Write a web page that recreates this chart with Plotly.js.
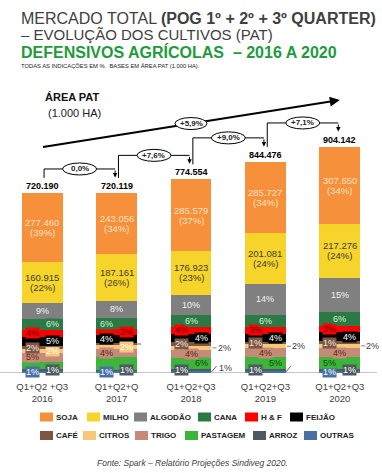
<!DOCTYPE html>
<html><head><meta charset="utf-8">
<script src="https://cdn.plot.ly/plotly-3.0.1.min.js"></script>
<style>html,body{margin:0;padding:0;background:#fff;}#chart{width:382px;height:473px;}</style>
</head><body><div id="chart"></div>
<script>
// ---------------- DATA (thousand ha, Área PAT) ----------------
const years = ['2016', '2017', '2018', '2019', '2020'];
const periodLabels = ['Q1+Q2 +Q3', 'Q1+Q2+Q', 'Q1+Q2+Q3', 'Q1+Q2+Q3', 'Q1+Q2+Q3'];
const totals = [720.190, 720.119, 774.554, 844.476, 904.142];

const soja     = [277.460, 243.056, 285.579, 285.727, 307.650];
const milho    = [160.915, 187.161, 176.923, 201.081, 217.276];
const algodao  = [64.8, 71, 79.5, 124, 135.6];
const cana     = [43.2, 43, 46.5, 50.7, 54.2];
const hf       = [28.8, 24, 31, 25.3, 27.1];
const feijao   = [36, 32, 31, 33.8, 36.2];
const cafe     = [14.4, 8, 15.5, 8.4, 9];
const citros   = [14.4, 16, 15.5, 16.9, 18.1];
const trigo    = [36, 32, 31, 33.8, 36.2];
const pastagem = [29.8, 50, 46.5, 48, 45.2];
const arroz    = [7.2, 7, 7.7, 8.4, 9];
const outras   = [7.2, 7, 7.7, 8.4, 9];

const algodaoLabels  = ['9%', '8%', '10%', '14%', '15%'];
const canaLabels     = ['6%', '6%', '6%', '6%', '6%'];
const hfLabels       = ['4%', '3%', '4%', '3%', '3%'];
const feijaoLabels   = ['5%', '4%', '4%', '4%', '4%'];
const cafeLabels     = ['2%', '', '2%', '1%', '1%'];
const citrosLabels   = ['2%', '2%', '2%', '2%', '2%'];
const trigoLabels    = ['5%', '4%', '4%', '4%', '4%'];
const pastagemLabels = ['', '', '6%', '5%', '5%'];
const arrozLabels    = ['1%', '1%', '1%', '1%', '1%'];
const outrasLabels   = ['1%', '1%', '1%', '', '1%'];

const growthLabels = ['0,0%', '+7,6%', '+9,0%', '+7,1%'];
const overallGrowth = '+5,9%';

// ---------------- STYLES ----------------
const FONT = 'Liberation Sans, Arial, Helvetica, sans-serif';
const series = [
  {name: 'OUTRAS',   y: outras,   lab: outrasLabels,   color: '#4A6FA5', tc: '#FFFFFF'},
  {name: 'ARROZ',    y: arroz,    lab: arrozLabels,    color: '#4E5961', tc: '#FFFFFF'},
  {name: 'PASTAGEM', y: pastagem, lab: pastagemLabels, color: '#3DB43A', tc: '#0E4A10'},
  {name: 'TRIGO',    y: trigo,    lab: trigoLabels,    color: '#C68B78', tc: '#5E2516'},
  {name: 'CITROS',   y: citros,   lab: citrosLabels,   color: '#F6C87A', tc: '#FFFFFF'},
  {name: 'CAFÉ',     y: cafe,     lab: cafeLabels,     color: '#7D5744', tc: '#F3E9E4'},
  {name: 'FEIJÃO',   y: feijao,   lab: feijaoLabels,   color: '#000000', tc: '#FFFFFF'},
  {name: 'H & F',    y: hf,       lab: hfLabels,       color: '#FF0000', tc: '#6A0000'},
  {name: 'CANA',     y: cana,     lab: canaLabels,     color: '#2B7A45', tc: '#D4F2D4'},
  {name: 'ALGODÃO',  y: algodao,  lab: algodaoLabels,  color: '#808080', tc: '#F4F4F4'},
  {name: 'MILHO',    y: milho,    lab: null,           color: '#F6D42A', tc: '#3C3C3C'},
  {name: 'SOJA',     y: soja,     lab: null,           color: '#F7903A', tc: '#FDE1C6'}
];
// label placement per series/year: c centre, l left, r right, o outside with dash,
// a outside with diagonal leader, d dash only, g diagonal only, '' none
const placement = {
  'ALGODÃO': ['c','c','c','c','c'],
  'CANA':    ['r','l','c','c','c'],
  'H & F':   ['l','r','l','l','l'],
  'FEIJÃO':  ['r','l','r','r','r'],
  'CAFÉ':    ['l','d','l','l','l'],
  'CITROS':  ['r','r','o','o','o'],
  'TRIGO':   ['l','l','c','c','c'],
  'PASTAGEM':['','','r','r','l'],
  'ARROZ':   ['r','r','l','l','r'],
  'OUTRAS':  ['l','l','a','g','l']
};
const legendOrder = ['SOJA','MILHO','ALGODÃO','CANA','H & F','FEIJÃO','CAFÉ','CITROS','TRIGO','PASTAGEM','ARROZ','OUTRAS'];
const legendX = [40, 87, 134, 198, 245, 290, 40, 83, 135, 185, 253, 304];

const W = 382, H = 473, ML = 5, MR = 5, MT = 75, MB = 100;
const PX = px => (px - ML) / (W - ML - MR);
const PY = py => (H - MB - py) / (H - MT - MB);
const BARW = 0.55;
const HALF = 20.5; // half bar width in px

const xs = years.map((_, i) => i);
const traces = series.map(s => ({
  type: 'bar', name: s.name, x: xs, y: s.y, width: BARW,
  marker: {color: s.color, line: {width: 0}}, hoverinfo: 'skip', showlegend: false
}));

const annotations = [];
const shapes = [];

// segment labels
const base = xs.map(() => 0);
series.forEach(s => {
  xs.forEach(i => {
    const v = s.y[i];
    const mid = base[i] + v / 2;
    if (s.lab === null) {
      const pct = '(' + Math.round(v / totals[i] * 100) + '%)';
      annotations.push({x: i, y: mid, yshift: 5, text: v.toFixed(3), showarrow: false,
        font: {family: FONT, size: 9.5, color: s.tc}});
      annotations.push({x: i, y: mid, yshift: -5, text: pct, showarrow: false,
        font: {family: FONT, size: 9.5, color: s.tc}});
    } else {
      const p = placement[s.name][i];
      const t = s.lab[i];
      if (p === 'c' || p === 'l' || p === 'r') {
        if (t) annotations.push({x: i, y: mid, xshift: p === 'l' ? -10 : (p === 'r' ? 10 : 0),
          text: t, showarrow: false, bgcolor: s.color, borderpad: 0,
          font: {family: FONT, size: 9, color: s.tc}});
      } else if (p === 'o') {
        shapes.push({type: 'line', xref: 'x', yref: 'y', xsizemode: 'pixel', xanchor: i,
          x0: HALF + 1, x1: HALF + 5, y0: mid, y1: mid, line: {color: '#808080', width: 1}});
        annotations.push({x: i, y: mid, xshift: HALF + 4, xanchor: 'left', text: t, showarrow: false,
          font: {family: FONT, size: 9, color: '#404040'}});
      } else if (p === 'd') {
        shapes.push({type: 'line', xref: 'x', yref: 'y', xsizemode: 'pixel', xanchor: i,
          x0: HALF, x1: HALF + 4, y0: mid, y1: mid, line: {color: '#606060', width: 1}});
      } else if (p === 'a' || p === 'g') {
        shapes.push({type: 'line', xref: 'x', yref: 'y', xsizemode: 'pixel', xanchor: i,
          ysizemode: 'pixel', yanchor: mid, x0: HALF, x1: HALF + 5, y0: 0, y1: 6,
          line: {color: '#4A6FA5', width: 1}});
        if (p === 'a') annotations.push({x: i, y: mid, xshift: HALF + 5, yshift: 4, xanchor: 'left',
          text: t, showarrow: false, font: {family: FONT, size: 9, color: '#404040'}});
      }
    }
    base[i] += v;
  });
});

// totals above bars
xs.forEach(i => {
  annotations.push({x: i, y: totals[i], yanchor: 'bottom', yshift: 0, text: '<b>' + totals[i].toFixed(3) + '</b>',
    showarrow: false, font: {family: FONT, size: 9, color: '#000'}});
});

// brackets with growth rates
growthLabels.forEach((g, k) => {
  const start = totals[k] + 60, level = totals[k + 1] + 96, tip = totals[k + 1] + 62;
  const xa = k + 0.025, xb = k + 1 - 0.02;
  shapes.push({type: 'line', xref: 'x', yref: 'y', x0: xa, x1: xa, y0: start, y1: level, line: {color: '#000', width: 1}});
  shapes.push({type: 'line', xref: 'x', yref: 'y', x0: xa, x1: xb, y0: level, y1: level, line: {color: '#000', width: 1}});
  annotations.push({x: xb, y: tip, ax: xb, ay: level, axref: 'x', ayref: 'y', text: '', showarrow: true,
    arrowhead: 2, arrowsize: 0.9, arrowwidth: 1, arrowcolor: '#000'});
  const xm = (xa + xb) / 2;
  shapes.push({type: 'circle', xref: 'x', yref: 'y', xsizemode: 'pixel', ysizemode: 'pixel',
    xanchor: xm, yanchor: level, x0: -17, x1: 17, y0: -6, y1: 6,
    line: {color: '#000', width: 1}, fillcolor: '#fff'});
  annotations.push({x: xm, y: level, text: '<b>' + g + '</b>', showarrow: false,
    font: {family: FONT, size: 8, color: '#222'}});
});

// overall trend arrow
const ax0 = 0.01, ay0 = 904, ax1 = 4.0, ay1 = 1092;
shapes.push({type: 'line', xref: 'x', yref: 'y', x0: ax0, y0: ay0, x1: ax1 - 0.06, y1: ay1 - (ay1 - ay0) * 0.06 / (ax1 - ax0),
  line: {color: '#000', width: 2}});
annotations.push({x: ax1, y: ay1, ax: -10, ay: 1.6, text: '', showarrow: true, arrowhead: 2,
  arrowsize: 1, arrowwidth: 2, arrowcolor: '#000'});
const gm = 2.0, gy = ay0 + (ay1 - ay0) * (gm - ax0) / (ax1 - ax0);
shapes.push({type: 'circle', xref: 'x', yref: 'y', xsizemode: 'pixel', ysizemode: 'pixel',
  xanchor: gm, yanchor: gy, x0: -16, x1: 16, y0: -6, y1: 6,
  line: {color: '#000', width: 1}, fillcolor: '#fff'});
annotations.push({x: gm, y: gy, text: '<b>' + overallGrowth + '</b>', showarrow: false,
  font: {family: FONT, size: 8, color: '#222'}});

// baseline
shapes.push({type: 'line', xref: 'paper', yref: 'y', x0: PX(0), x1: PX(377), y0: 0, y1: 0,
  line: {color: '#8C8C8C', width: 1}, layer: 'below'});

// titles
const P = (px, py, text, size, color, extra) => Object.assign({xref: 'paper', yref: 'paper',
  x: PX(px), y: PY(py), xanchor: 'left', yanchor: 'middle', text: text, showarrow: false,
  font: {family: FONT, size: size, color: color}}, extra || {});
annotations.push(P(19, 18.5, 'MERCADO TOTAL <b>(POG 1º + 2º + 3º QUARTER)</b>', 16, '#404040'));
annotations.push(P(19, 35, '– EVOLUÇÃO DOS CULTIVOS (PAT)', 15, '#404040'));
annotations.push(P(19, 52, '<b>DEFENSIVOS AGRÍCOLAS\u00a0\u00a0– 2016 A 2020</b>', 16, '#1E9B3C'));
annotations.push(P(19, 66, 'TODAS AS INDICAÇÕES EM %.\u00a0 BASES EM ÁREA PAT (1.000 HA).', 5.8, '#222'));
annotations.push(P(43, 97, '<b>ÁREA PAT</b>', 11, '#111'));
annotations.push(P(46, 113, '(1.000 HA)', 11, '#222'));
annotations.push({xref: 'paper', yref: 'paper', x: PX(192), y: PY(463), xanchor: 'center', yanchor: 'middle',
  text: '<i>Fonte: Spark – Relatório Projeções Sindiveg 2020.</i>', showarrow: false,
  font: {family: FONT, size: 8.5, color: '#404040'}});

// custom legend
legendOrder.forEach((nm, j) => {
  const s = series.find(t => t.name === nm);
  const row = j < 6 ? 417 : 435.5;
  const lx = legendX[j];
  shapes.push({type: 'rect', xref: 'paper', yref: 'paper', x0: PX(lx), x1: PX(lx + 13),
    y0: PY(row + 4.5), y1: PY(row - 4.5), fillcolor: s.color, line: {width: 0}});
  annotations.push(P(lx + 14, row, '<b>' + nm + '</b>', 8, '#222'));
});

const layout = {
  width: W, height: H, margin: {l: ML, r: MR, t: MT, b: MB},
  paper_bgcolor: '#fff', plot_bgcolor: '#fff', barmode: 'stack', bargap: 0.45,
  showlegend: false,
  xaxis: {range: [-0.5, 4.5], tickvals: xs, ticktext: xs.map(i => periodLabels[i] + '<br>' + years[i]),
    ticks: '', ticklabelstandoff: 6, showline: false, showgrid: false, zeroline: false, fixedrange: true,
    tickfont: {family: FONT, size: 9.5, color: '#404040'}},
  yaxis: {range: [0, 1192], visible: false, showgrid: false, zeroline: false, fixedrange: true},
  annotations: annotations, shapes: shapes
};
Plotly.newPlot('chart', traces, layout, {staticPlot: true, displayModeBar: false});
</script>
</body></html>
